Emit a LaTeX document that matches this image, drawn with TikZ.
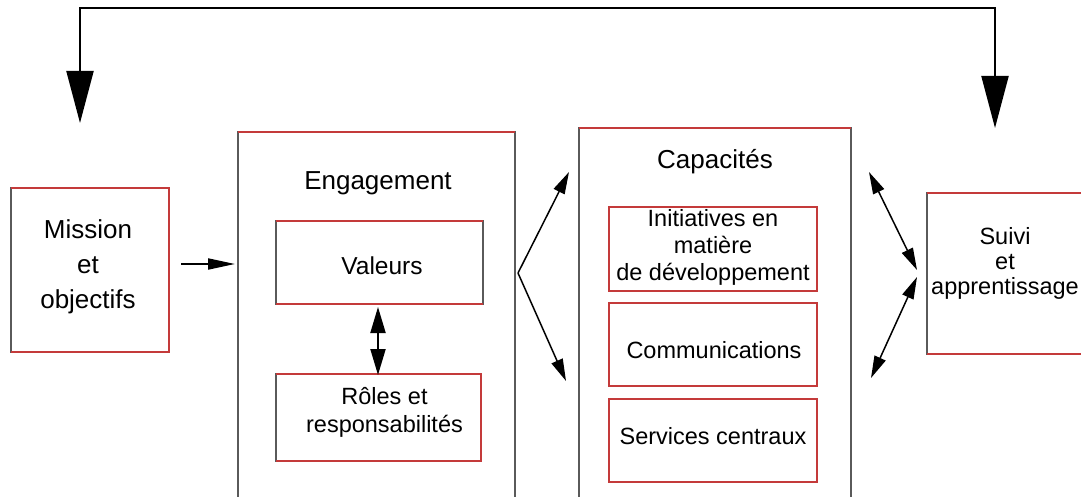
\documentclass[tikz,border=0pt]{standalone}
\usepackage{fontspec}
\setmainfont{Liberation Sans}
\usetikzlibrary{arrows.meta}
\definecolor{boxgrey}{HTML}{5A5A5A}
\definecolor{boxred}{HTML}{C43A3A}
\begin{document}
\begin{tikzpicture}[x=1pt,y=-1pt,
  boxshape/.style={draw=boxgrey,line width=2pt,outer sep=0pt,inner sep=0pt,rectangle},
  redline/.style={draw=boxred,line width=2pt},
  txt/.style={inner sep=0pt,align=center,text=black},
  bigtxt/.style={txt,font=\fontsize{26}{35}\selectfont},
  smalltxt/.style={txt,font=\fontsize{23.5}{27}\selectfont},
  bigtip/.style={line width=2pt,{Triangle[length=52pt,width=27pt]}-{Triangle[length=52pt,width=27pt]}},
  midtip/.style={line width=2pt,{Triangle[length=26pt,width=15pt]}-{Triangle[length=26pt,width=15pt]}},
  thintip/.style={line width=1.5pt},
]
\clip (0,0) rectangle (1081,497);
\fill[white] (0,0) rectangle (1081,497);

% boxes
\node[boxshape,minimum width=158pt,minimum height=164pt] (mission) at (90,270) {};
\node[boxshape,minimum width=277pt,minimum height=376pt] (eng) at (376.5,320) {};
\node[boxshape,minimum width=207pt,minimum height=83pt] (val) at (379.5,262.5) {};
\node[boxshape,minimum width=205pt,minimum height=87pt] (role) at (378.5,417.5) {};
\node[boxshape,minimum width=272pt,minimum height=380pt] (cap) at (715,318) {};
\node[boxshape,draw=boxred,minimum width=208pt,minimum height=84pt] (init) at (713,249) {};
\node[boxshape,draw=boxred,minimum width=208pt,minimum height=83pt] (comm) at (713,344.5) {};
\node[boxshape,draw=boxred,minimum width=208pt,minimum height=83pt] (serv) at (713,440.5) {};
\node[boxshape,minimum width=170pt,minimum height=161pt] (suivi) at (1012,273.5) {};

% red edges
\draw[redline] (mission.north west) -- (mission.north east) -- (mission.south east) -- (mission.south west);
\draw[redline] (eng.north west) -- (eng.north east);
\draw[redline] (val.north west) -- (val.north east);
\draw[redline] (val.south west) -- (val.south east);
\draw[redline] (role.north west) -- (role.north east) -- (role.south east) -- (role.south west);
\draw[redline] (cap.north west) -- (cap.north east);
\draw[redline] (suivi.north west) -- (suivi.north east);
\draw[redline] (suivi.south west) -- (suivi.south east);

% texts
\node[bigtxt] (missiont) at (88,267) {Mission\\et\\objectifs};
\node[bigtxt] (engt) at (378,183) {Engagement};
\node[smalltxt,font=\fontsize{24.5}{27}\selectfont] (valt) at (382,266) {Valeurs};
\node[smalltxt,font=\fontsize{23.5}{28}\selectfont] (rolet) at (384.5,412) {R\^oles et\\responsabilit\'es};
\node[bigtxt] (capt) at (715,162) {Capacit\'es};
\node[smalltxt] (initt) at (713,247) {Initiatives en\\mati\`ere\\de d\'eveloppement};
\node[smalltxt] (commt) at (714,350) {Communications};
\node[smalltxt] (servt) at (713,436) {Services centraux};
\node[smalltxt,font=\fontsize{23.5}{25}\selectfont] (suivit) at (1005,263) {Suivi\\et\\apprentissage};

% connector coordinates
\coordinate (mtip) at (80,123);
\coordinate (ctl) at (80,8);
\coordinate (ctr) at (995,8);
\coordinate (stip) at (995,128);
\coordinate (a1s) at (181,264);
\coordinate (a1e) at (235,264);
\coordinate (vr1) at (378,307);
\coordinate (vr2) at (378,375);
\coordinate (lv) at (518,273);
\coordinate (lt) at (569,172);
\coordinate (lb) at (566,381);
\coordinate (rt) at (869,172);
\coordinate (rv1) at (917,270);
\coordinate (rv2) at (917,277);
\coordinate (rb) at (871,378);

% connectors
\draw[bigtip] (mtip) -- (ctl) -- (ctr) -- (stip);
\draw[line width=2pt,-{Triangle[length=27pt,width=11pt]}] (a1s) -- (a1e);
\draw[midtip] (vr1) -- (vr2);
\draw[thintip,-{Triangle[length=22pt,width=12pt]}] (lv) -- (lt);
\draw[thintip,-{Triangle[length=22pt,width=12pt]}] (lv) -- (lb);
\draw[thintip,{Triangle[length=22pt,width=12pt]}-{Triangle[length=22pt,width=12pt]}] (rt) -- (rv1);
\draw[thintip,{Triangle[length=22pt,width=12pt]}-{Triangle[length=22pt,width=12pt]}] (rv2) -- (rb);
\end{tikzpicture}
\end{document}
